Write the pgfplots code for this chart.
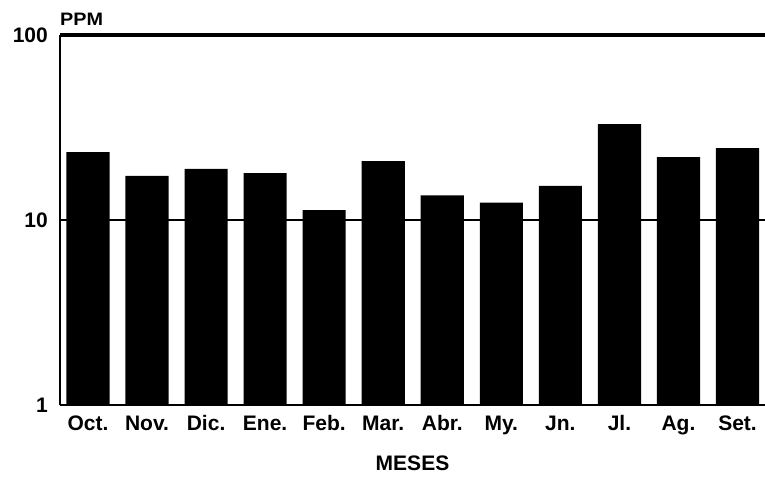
\documentclass[border=0pt]{standalone}
\usepackage{fontspec}
\setmainfont{Liberation Sans}
\usepackage{pgfplots}
\pgfplotsset{compat=1.18}
\begin{document}
\begin{tikzpicture}[x=1pt,y=1pt]
\begin{axis}[
  at={(60pt,72pt)}, anchor=south west,
  scale only axis, width=705pt, height=370pt,
  ymode=log, log basis y=10, ymin=1, ymax=100,
  ytick={1,10,100}, yticklabels={1,10,100},
  xmin=-0.474, xmax=11.465,
  xtick={0,...,11},
  xticklabels={Oct.,Nov.,Dic.,Ene.,Feb.,Mar.,Abr.,My.,Jn.,Jl.,Ag.,Set.},
  axis x line*=bottom, axis y line*=left,
  axis line style={line width=2.8pt, -},
  ymajorgrids, major grid style={black, line width=2.4pt},
  major tick length=0pt,
  /pgf/number format/assume math mode=true,
  tick label style={font=\fontsize{21}{24}\selectfont\bfseries},
  xticklabel style={anchor=base, inner sep=0pt, yshift=-25pt},
  yticklabel style={anchor=east, inner sep=0pt, xshift=-12pt},
  ybar, bar width=0.73,
  clip=false,
]
\addplot[fill=black, draw=none] coordinates {
  (0,23.3) (1,17.3) (2,18.9) (3,17.9) (4,11.3) (5,20.8)
  (6,13.6) (7,12.4) (8,15.3) (9,33.0) (10,21.9) (11,24.5)
};
% heavier rule along the top of the frame
\draw[line width=3.4pt] (rel axis cs:0,1) -- (rel axis cs:1,1);
\end{axis}
\node[anchor=base west, inner sep=0pt, xscale=1.1, font=\fontsize{18}{21}\selectfont\bfseries] at (60,451) {PPM};
\node[anchor=center, inner sep=0pt, font=\fontsize{21}{24}\selectfont\bfseries] at (412.5,13.5) {MESES};
\pgfresetboundingbox
\path[use as bounding box] (0,0) rectangle (765,477);
\end{tikzpicture}
\end{document}
